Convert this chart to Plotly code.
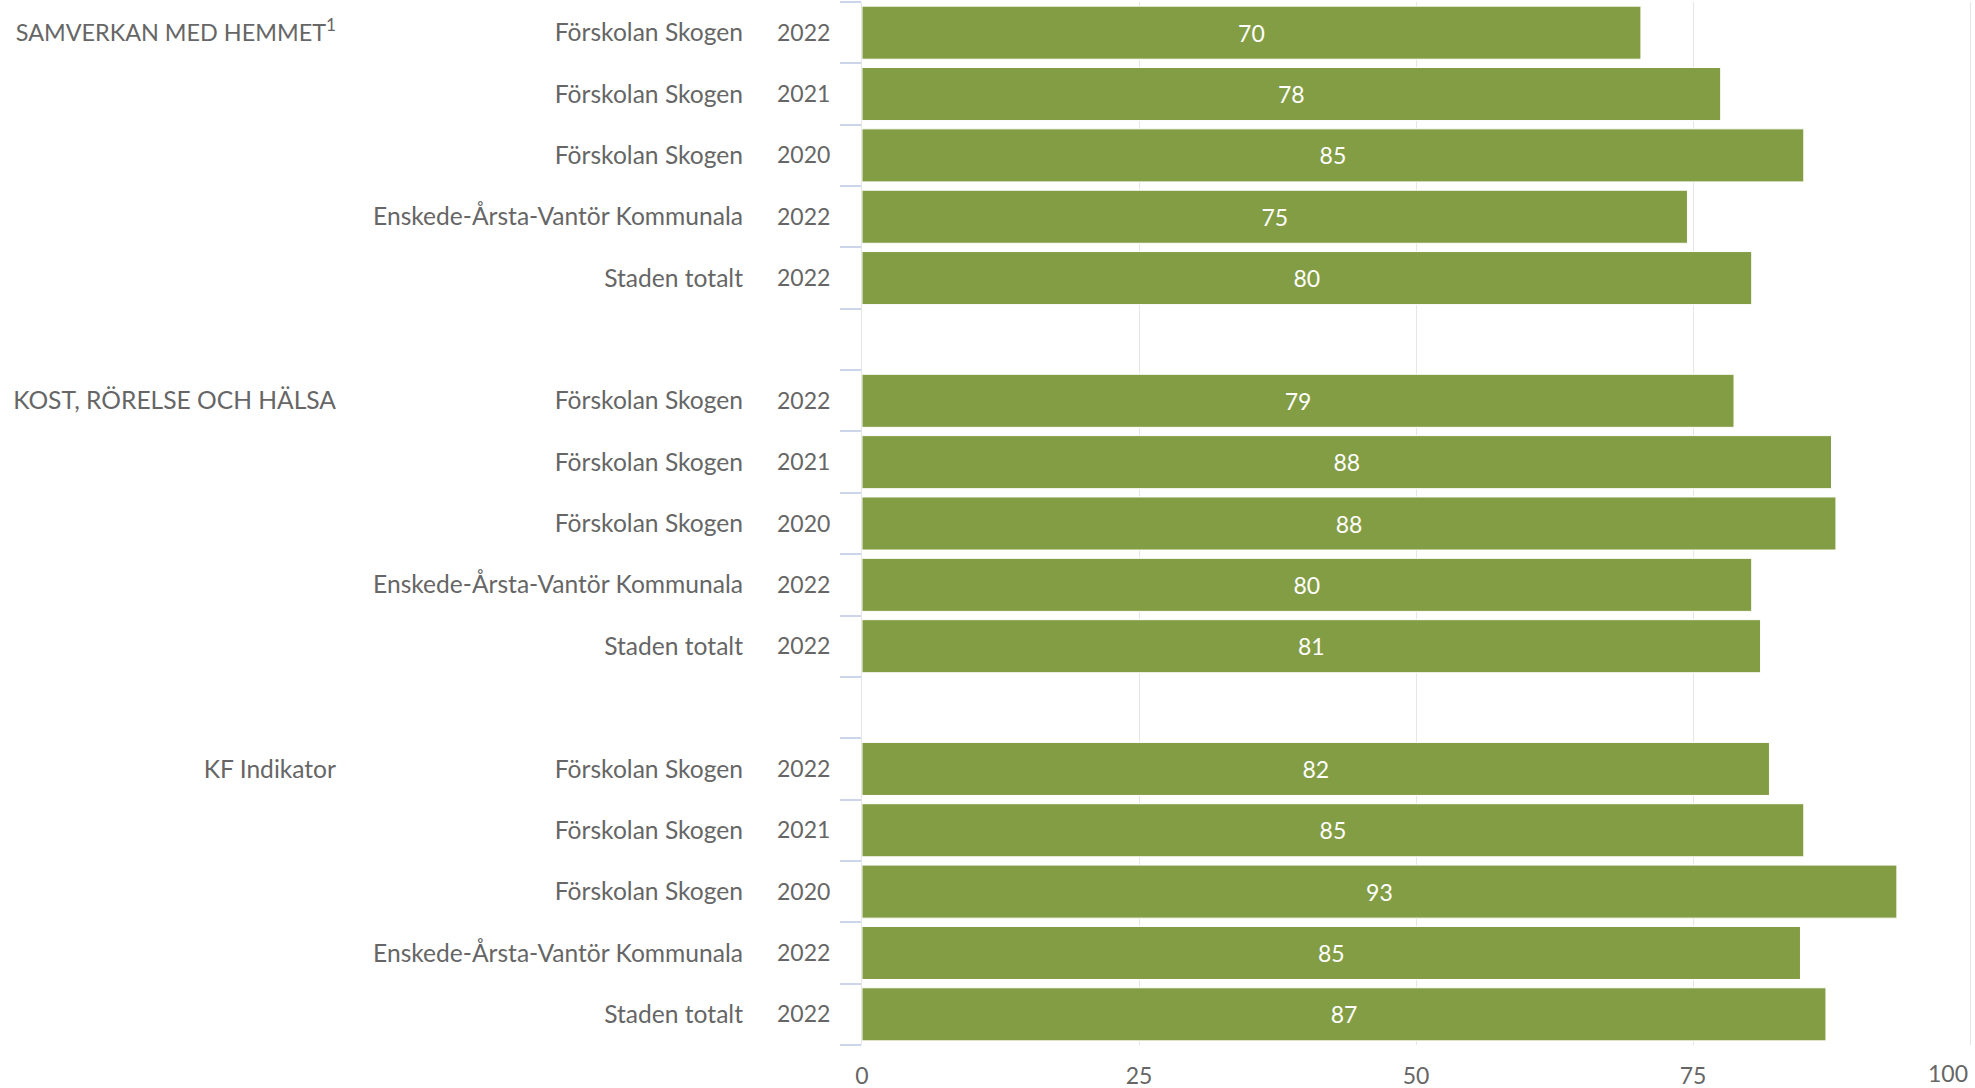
import plotly.graph_objects as go

# ---- data ----
groups = ["<span style='font-size:23.4px'>SAMVERKAN MED HEMMET</span><sup>1</sup>",
          "KOST, RÖRELSE OCH HÄLSA", "KF Indikator"]
units = ["Förskolan Skogen", "Förskolan Skogen", "Förskolan Skogen",
         "Enskede-Årsta-Vantör Kommunala", "Staden totalt"]
years = ["2022", "2021", "2020", "2022", "2022"]
values_samverkan = [70.3, 77.5, 85.0, 74.5, 80.3]
values_kost = [78.7, 87.5, 87.9, 80.3, 81.1]
values_kf = [81.9, 85.0, 93.4, 84.7, 87.0]
labels_samverkan = ["70", "78", "85", "75", "80"]
labels_kost = ["79", "88", "88", "80", "81"]
labels_kf = ["82", "85", "93", "85", "87"]
x_ticks = [0, 25, 50, 75, 100]

group_values = [values_samverkan, values_kost, values_kf]
group_labels = [labels_samverkan, labels_kost, labels_kf]

# ---- positions on a numeric category axis (one empty slot between groups) ----
slot = len(units) + 1
ys, xs, txt, year_txt, unit_txt = [], [], [], [], []
group_pos = []
for g in range(len(groups)):
    group_pos.append(g * slot)
    for i in range(len(units)):
        ys.append(g * slot + i)
        xs.append(group_values[g][i])
        txt.append(group_labels[g][i])
        year_txt.append(years[i])
        unit_txt.append(units[i])
n_slots = len(groups) * slot - 1
boundaries = [b - 0.5 for b in range(n_slots + 1)]
yrange = [n_slots - 0.5, -0.5]

FONT = "Lato"
GRAY = "#666666"
GREEN = "#839d45"
FS = 23
FS_NAMES = 24.6

fig = go.Figure()
fig.add_trace(go.Bar(
    x=xs, y=ys, orientation="h",
    marker=dict(color=GREEN, line=dict(color="#ffffff", width=1)),
    text=txt, textposition="inside", insidetextanchor="middle",
    textangle=0, textfont=dict(color="#ffffff", size=FS, family=FONT),
    hoverinfo="x+y", showlegend=False,
))
# invisible helpers so overlaid label axes exist
fig.add_trace(go.Scatter(x=xs, y=ys, yaxis="y2", mode="markers",
                         marker=dict(opacity=0), hoverinfo="skip", showlegend=False))
fig.add_trace(go.Scatter(x=xs, y=ys, yaxis="y3", mode="markers",
                         marker=dict(opacity=0), hoverinfo="skip", showlegend=False))

# last tick label is kept inside the chart edge (drawn as an annotation)
x_ticktext = [str(v) for v in x_ticks[:-1]] + [""]
fig.add_annotation(
    x=x_ticks[-1], xref="x", y=0, yref="paper",
    text=str(x_ticks[-1]), showarrow=False,
    xanchor="right", yanchor="middle", xshift=0, yshift=-28,
    font=dict(size=FS, color=GRAY, family=FONT),
)

fig.update_layout(
    width=1975, height=1088,
    margin=dict(l=862, r=3, t=2, b=43, autoexpand=False),
    paper_bgcolor="#ffffff", plot_bgcolor="#ffffff",
    bargap=0.135,
    font=dict(family=FONT, color=GRAY, size=FS),
    xaxis=dict(
        range=[0, 100.18], tickmode="array", tickvals=x_ticks, ticktext=x_ticktext,
        showgrid=True, gridcolor="#e6e6e6", gridwidth=1,
        zeroline=False, showline=False, ticks="",
        ticklabelstandoff=15, automargin=False,
        tickfont=dict(size=FS, color=GRAY, family=FONT),
        fixedrange=True,
    ),
    yaxis=dict(
        range=yrange, tickmode="array", tickvals=ys, ticktext=year_txt,
        showgrid=False, zeroline=False,
        showline=True, linecolor="#e6e6e6", linewidth=1,
        ticks="", automargin=False,
        minor=dict(tickmode="array", tickvals=boundaries, ticks="outside",
                   ticklen=21, tickwidth=2, tickcolor="#ccd6eb", showgrid=False),
        ticklabelstandoff=26,
        tickfont=dict(size=FS, color=GRAY, family=FONT),
        fixedrange=True,
    ),
    yaxis2=dict(
        range=yrange, overlaying="y", side="left", anchor="x",
        tickmode="array", tickvals=ys, ticktext=unit_txt,
        showgrid=False, zeroline=False, showline=False, ticks="", automargin=False,
        ticklabelstandoff=118,
        tickfont=dict(size=FS_NAMES, color=GRAY, family=FONT),
        fixedrange=True,
    ),
    yaxis3=dict(
        range=yrange, overlaying="y", side="left", anchor="x",
        tickmode="array", tickvals=group_pos, ticktext=groups,
        showgrid=False, zeroline=False, showline=False, ticks="", automargin=False,
        ticklabelstandoff=525,
        tickfont=dict(size=FS_NAMES, color=GRAY, family=FONT),
        fixedrange=True,
    ),
)

fig.write_html("out.html")
